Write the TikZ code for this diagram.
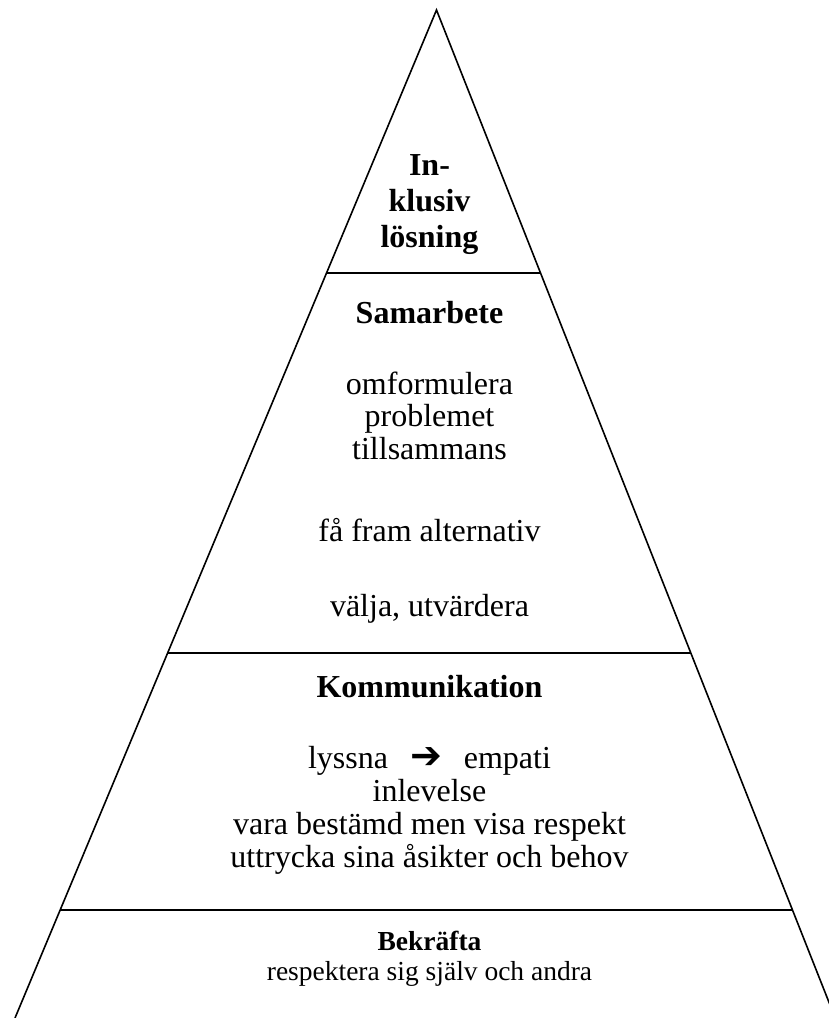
\documentclass[tikz,border=0pt]{standalone}
\usepackage{fontspec}
\setmainfont{Liberation Serif}
\newfontfamily\symfont{DejaVu Sans}
\usetikzlibrary{calc}
\tikzset{
  edge/.style={line width=1.6pt, black},
  divider/.style={line width=1.8pt, black},
  txt/.style={anchor=base, inner sep=0pt, font=\fontsize{32}{33}\selectfont},
  head/.style={txt, font=\fontsize{32}{33}\selectfont\bfseries},
  smalltxt/.style={anchor=base, inner sep=0pt, font=\fontsize{27.5}{30}\selectfont},
  smallhead/.style={smalltxt, font=\fontsize{27.5}{30}\selectfont\bfseries},
}
\begin{document}
\begin{tikzpicture}[x=1pt,y=-1pt]
\useasboundingbox (0,0) rectangle (829,1018);
\clip (0,0) rectangle (829,1018);
\coordinate (apex) at (436.5,10);
\coordinate (bl) at (15,1018);
\coordinate (br) at (835.2,1018);
\draw[edge] (bl) -- (apex) -- (br);
% dividers
\coordinate (d1l) at ($(apex)!0.2609!(bl)$);
\coordinate (d1r) at ($(apex)!0.2609!(br)$);
\coordinate (d2l) at ($(apex)!0.6379!(bl)$);
\coordinate (d2r) at ($(apex)!0.6379!(br)$);
\coordinate (d3l) at ($(apex)!0.8929!(bl)$);
\coordinate (d3r) at ($(apex)!0.8929!(br)$);
\draw[divider] (d1l) -- (d1r);
\draw[divider] (d2l) -- (d2r);
\draw[divider] (d3l) -- (d3r);
% top
\node[head] (t1) at (429.5,175) {In-};
\node[head] (t2) at (429.5,211) {klusiv};
\node[head] (t3) at (429.5,247) {lösning};
% Samarbete
\node[head] (s0) at (429.5,323) {Samarbete};
\node[txt] (s1) at (429.5,394) {omformulera};
\node[txt] (s2) at (429.5,426) {problemet};
\node[txt] (s3) at (429.5,459) {tillsammans};
\node[txt] (s4) at (429.5,541) {få fram alternativ};
\node[txt] (s5) at (429.5,616) {välja, utvärdera};
% Kommunikation
\node[head] (k0) at (429.5,697) {Kommunikation};
\node[txt] (k1) at (429.5,768) {lyssna\hspace{22pt}{\symfont\fontsize{38}{38}\selectfont ➔}\hspace{22pt}empati};
\node[txt] (k2) at (429.5,801) {inlevelse};
\node[txt] (k3) at (429.5,834) {vara bestämd men visa respekt};
\node[txt] (k4) at (429.5,867) {uttrycka sina åsikter och behov};
% Bekräfta
\node[smallhead] (b0) at (429.5,950) {Bekräfta};
\node[smalltxt] (b1) at (429.5,980) {respektera sig själv och andra};
\end{tikzpicture}
\end{document}
